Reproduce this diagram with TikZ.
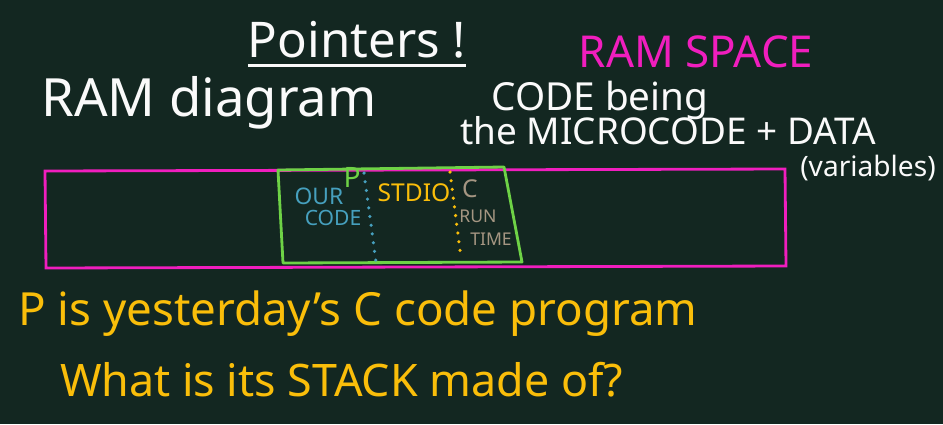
\documentclass[tikz,border=0pt]{standalone}
\usepackage{fontspec}
\setmainfont{Noto Sans}
\usetikzlibrary{positioning}

\definecolor{board}{RGB}{19,39,33}
\definecolor{chalk}{RGB}{250,250,250}
\definecolor{pinkink}{RGB}{240,30,190}
\definecolor{greenink}{RGB}{110,210,70}
\definecolor{blueink}{RGB}{70,160,190}
\definecolor{yellowink}{RGB}{250,190,10}
\definecolor{greyink}{RGB}{165,150,130}

\begin{document}
\begin{tikzpicture}[
  x=0.02cm, y=-0.02cm,
  every node/.style={inner sep=0pt, outer sep=0pt},
  hw/.style={text=chalk},
  fs/.style={font=\fontsize{#1}{#1}\selectfont},
  ramline/.style={pinkink, line width=1.6pt},
  boxline/.style={greenink, line width=1.6pt, line join=round},
  dots/.style={line width=2pt, line cap=round, dash pattern=on 0pt off 5pt},
]
% Board
\fill[board] (0,0) rectangle (943,424);
\useasboundingbox (0,0) rectangle (943,424);

% Headings
\node[hw, fs=28] (title) at (357,40) {Pointers !};
\draw[chalk, line width=1.2pt] ([yshift=-4pt]title.south west) -- ([yshift=-4pt]title.south east);
\node[text=pinkink, fs=25] (ramspace) at (696,52) {RAM SPACE};
\node[hw, fs=30] (ramdiag) at (209,103) {RAM diagram};
\node[hw, fs=22] (codebeing) at (600,100) {CODE being};
\node[hw, fs=21] (microcode) at (668,131) {the MICROCODE + DATA};
\node[hw, fs=16] (vars) at (868,168) {(variables)};

% RAM strip
\draw[ramline] (45,171) -- (785,169) -- (786,266) -- (46,268) -- cycle;

% Program P
\draw[boxline] (278,170) -- (504,167) -- (522,262) -- (283,263) -- cycle;
\node[text=greenink, fs=16] (pmark) at (352,177) {P};
\node[text=blueink, fs=13] (our) at (319,196) {OUR};
\node[text=blueink, fs=12] (code) at (333,218) {CODE};
\node[text=yellowink, fs=14] (stdio) at (414,193) {STDIO};
\node[text=greyink, fs=14] (crt) at (470,189) {C};
\node[text=greyink, fs=10] (run) at (478,216) {RUN};
\node[text=greyink, fs=10] (time) at (491,239) {TIME};
\coordinate (blueA) at (364,173);
\coordinate (blueB) at (376,262);
\coordinate (yelA) at (450,172);
\coordinate (yelB) at (461,258);
\draw[dots, blueink] (blueA) -- (blueB);
\draw[dots, yellowink] (yelA) -- (yelB);

% Question
\node[text=yellowink, fs=26, anchor=west] (yesterday) at (18,314) {P is yesterday's C code program};
\node[text=yellowink, fs=25.5, anchor=west] (stack) at (60,380) {What is its STACK made of?};
\end{tikzpicture}
\end{document}
